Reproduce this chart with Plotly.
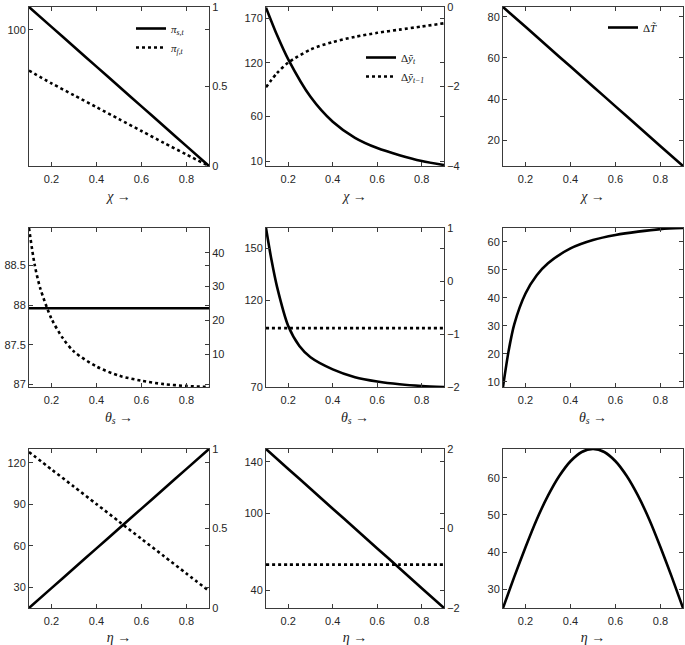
"""Nine-panel comparative statics figure (chi, theta_s, eta)."""

import plotly.graph_objects as go

# ---------------------------------------------------------------------------
# Data
# ---------------------------------------------------------------------------

x_grid = [0.1, 0.2, 0.3, 0.4, 0.5, 0.6, 0.7, 0.8, 0.9]
x_half = [0.1, 0.15, 0.2, 0.25, 0.3, 0.35, 0.4, 0.45, 0.5,
          0.55, 0.6, 0.65, 0.7, 0.75, 0.8, 0.85, 0.9]
x_dense = [0.1, 0.125, 0.15, 0.2, 0.25, 0.3, 0.4, 0.5, 0.6, 0.7, 0.8, 0.9]
x_chi_curve = [0.1, 0.15, 0.2, 0.3, 0.4, 0.5, 0.6, 0.7, 0.8, 0.9]

# row 1: chi
pi_s_chi = [104.0, 100.5, 97.0, 93.5, 90.0, 86.5, 83.0, 79.5, 76.0]          # left
pi_f_chi = [0.6, 0.52, 0.445, 0.37, 0.295, 0.22, 0.145, 0.072, 0.0]          # right
dy_t_chi = [182, 151, 124, 82, 54, 36, 24.5, 16.5, 10, 5.5]                    # left
dy_tm1_chi = [-2.02, -1.66, -1.40, -1.07, -0.88, -0.75, -0.65, -0.57, -0.49, -0.41]  # right
dT_chi = [84.7, 75.1, 65.4, 55.8, 46.2, 36.5, 26.9, 17.2, 7.6]

# row 2: theta_s
pi_s_theta = [87.96] * len(x_dense)                                            # left
pi_f_theta = [47.3, 36.5, 29.5, 20.5, 14.8, 10.8, 6.4, 3.7, 2.2, 1.2, 0.65, 0.35]  # right
dy_t_theta = [161.7, 143, 127.5, 105, 93.5, 87, 80, 75.5, 73, 71.4, 70.4, 69.8]  # left
dy_tm1_theta = [-0.89] * len(x_dense)                                          # right
dT_theta = [8.1, 21, 30.5, 41.5, 48, 52.3, 57.6, 60.6, 62.4, 63.6, 64.5, 64.9]

# row 3: eta
pi_s_eta = [0.0, 0.125, 0.25, 0.375, 0.5, 0.625, 0.75, 0.875, 1.0]            # right
pi_f_eta = [127.8, 115.2, 102.7, 90.1, 77.5, 64.9, 52.4, 39.8, 27.2]          # left
dy_t_eta = [150.1, 134.6, 119.2, 103.7, 88.3, 72.8, 57.4, 41.9, 26.5]         # left
dy_tm1_eta = [-0.91] * len(x_grid)                                             # right
dT_eta = [24.9, 33.3, 41.3, 48.8, 55.2, 60.5, 64.5, 67.0, 67.8,
          67.0, 64.5, 60.5, 55.2, 48.8, 41.3, 33.3, 24.9]

# axis limits / ticks per panel: (left range, left ticks, right range, right ticks)
axis_setup = {
    1: ([76.0, 104.0], [100], [0, 1], [0, 0.5, 1]),
    2: ([4.4, 182.7], [10, 60, 120, 170], [-4, 0], [-4, -2, 0]),
    3: ([7.6, 84.7], [20, 40, 60, 80], None, None),
    4: ([86.97, 88.97], [87, 87.5, 88, 88.5], [0.35, 47.3], [10, 20, 30, 40]),
    5: ([69.8, 161.7], [70, 120, 150], [-2, 1], [-2, -1, 0, 1]),
    6: ([8.1, 64.9], [10, 20, 30, 40, 50, 60], None, None),
    7: ([14.9, 130.0], [30, 60, 90, 120], [0, 1], [0, 0.5, 1]),
    8: ([26.5, 150.1], [40, 100, 140], [-2, 2], [-2, 0, 2]),
    9: ([24.9, 67.8], [30, 40, 50, 60], None, None),
}

x_titles = {
    1: "<i>χ</i> →",
    2: "<i>θ<sub>s</sub></i> →",
    3: "<i>η</i> →",
}

# ---------------------------------------------------------------------------
# Layout geometry (pixels of the 685x645 page)
# ---------------------------------------------------------------------------

W, H = 685, 645
M_L, M_R, M_T, M_B = 29, 2, 7, 37
cols_px = [(29, 209), (266, 444), (503, 683)]
rows_px = [(7, 166), (228, 387), (449, 608)]

AX_FONT = dict(family="Liberation Sans, Arial, sans-serif", size=11, color="#262626")
SERIF = "Liberation Serif, Times New Roman, serif"
FRAME = "#3a3a3a"


def _px_x(px):
    return (px - M_L) / (W - M_L - M_R)


def _px_y(px):
    return (H - M_B - px) / (H - M_T - M_B)


def _sfx(i):
    return "" if i == 1 else str(i)


def _line(x, y, panel, right=False, dotted=False, name=None, legend=None):
    yid = f"y{panel + 10}" if right else f"y{_sfx(panel)}"
    return go.Scatter(
        x=x, y=y,
        xaxis=f"x{_sfx(panel)}", yaxis=yid,
        mode="lines",
        line=dict(color="black", width=2.6, dash="dot" if dotted else "solid",
                  shape="spline", smoothing=0.8),
        name=name or "",
        showlegend=name is not None,
        legend=legend,
        hoverinfo="skip",
    )


fig = go.Figure()

# row 1
fig.add_trace(_line(x_grid, pi_s_chi, 1, name="<i>π<sub>s,t</sub></i>", legend="legend"))
fig.add_trace(_line(x_grid, pi_f_chi, 1, right=True, dotted=True,
                    name="<i>π<sub>f,t</sub></i>", legend="legend"))
fig.add_trace(_line(x_chi_curve, dy_t_chi, 2, name="Δ<i>ỹ<sub>t</sub></i>", legend="legend2"))
fig.add_trace(_line(x_chi_curve, dy_tm1_chi, 2, right=True, dotted=True,
                    name="Δ<i>ỹ<sub>t−1</sub></i>", legend="legend2"))
fig.add_trace(_line(x_grid, dT_chi, 3, name="Δ<i>T̃</i>", legend="legend3"))

# row 2
fig.add_trace(_line(x_dense, pi_s_theta, 4))
fig.add_trace(_line(x_dense, pi_f_theta, 4, right=True, dotted=True))
fig.add_trace(_line(x_dense, dy_t_theta, 5))
fig.add_trace(_line(x_dense, dy_tm1_theta, 5, right=True, dotted=True))
fig.add_trace(_line(x_dense, dT_theta, 6))

# row 3
fig.add_trace(_line(x_grid, pi_s_eta, 7, right=True))
fig.add_trace(_line(x_grid, pi_f_eta, 7, dotted=True))
fig.add_trace(_line(x_grid, dy_t_eta, 8))
fig.add_trace(_line(x_grid, dy_tm1_eta, 8, right=True, dotted=True))
fig.add_trace(_line(x_half, dT_eta, 9))

layout = {}
for panel in range(1, 10):
    r, c = (panel - 1) // 3, (panel - 1) % 3
    x0, x1 = cols_px[c]
    y0, y1 = rows_px[r]
    sfx = _sfx(panel)
    left_rng, left_ticks, right_rng, right_ticks = axis_setup[panel]

    common = dict(
        ticks="inside", ticklen=4, tickcolor=FRAME, tickwidth=1,
        showline=True, linecolor=FRAME, linewidth=1,
        showgrid=False, zeroline=False, tickfont=AX_FONT,
    )
    layout[f"xaxis{sfx}"] = dict(
        domain=[_px_x(x0), _px_x(x1)], anchor=f"y{sfx}",
        range=[0.1, 0.9], tickvals=[0.2, 0.4, 0.6, 0.8],
        ticktext=["0.2", "0.4", "0.6", "0.8"],
        mirror="ticks", ticklabelstandoff=3,
        title=dict(text=x_titles[r + 1], font=dict(family=SERIF, size=14, color="#222"),
                   standoff=6),
        **common,
    )
    layout[f"yaxis{sfx}"] = dict(
        domain=[_px_y(y1), _px_y(y0)], anchor=f"x{sfx}",
        range=left_rng, tickvals=left_ticks,
        mirror="ticks",
        **common,
    )
    if right_rng is not None:
        layout[f"yaxis{panel + 10}"] = dict(
            overlaying=f"y{sfx}", anchor=f"x{sfx}", side="right",
            range=right_rng, tickvals=right_ticks,
            **common,
        )

legend_style = dict(
    bgcolor="rgba(0,0,0,0)", borderwidth=0,
    font=dict(family=SERIF, size=11, color="#111"),
    xanchor="left", yanchor="top", tracegroupgap=0,
)
layout["legend"] = dict(x=_px_x(131), y=_px_y(14), **legend_style)
layout["legend2"] = dict(x=_px_x(361), y=_px_y(43), **legend_style)
layout["legend3"] = dict(x=_px_x(603), y=_px_y(13), **legend_style)

fig.update_layout(
    **layout,
    width=W, height=H,
    margin=dict(l=M_L, r=M_R, t=M_T, b=M_B, autoexpand=False),
    plot_bgcolor="white", paper_bgcolor="white",
    showlegend=True,
)

# the page body has a default 8px margin; drop it so the figure fills the window
fig.write_html(
    "out.html",
    config={"displayModeBar": False},
    post_script="document.body.style.margin = '0px';",
)
